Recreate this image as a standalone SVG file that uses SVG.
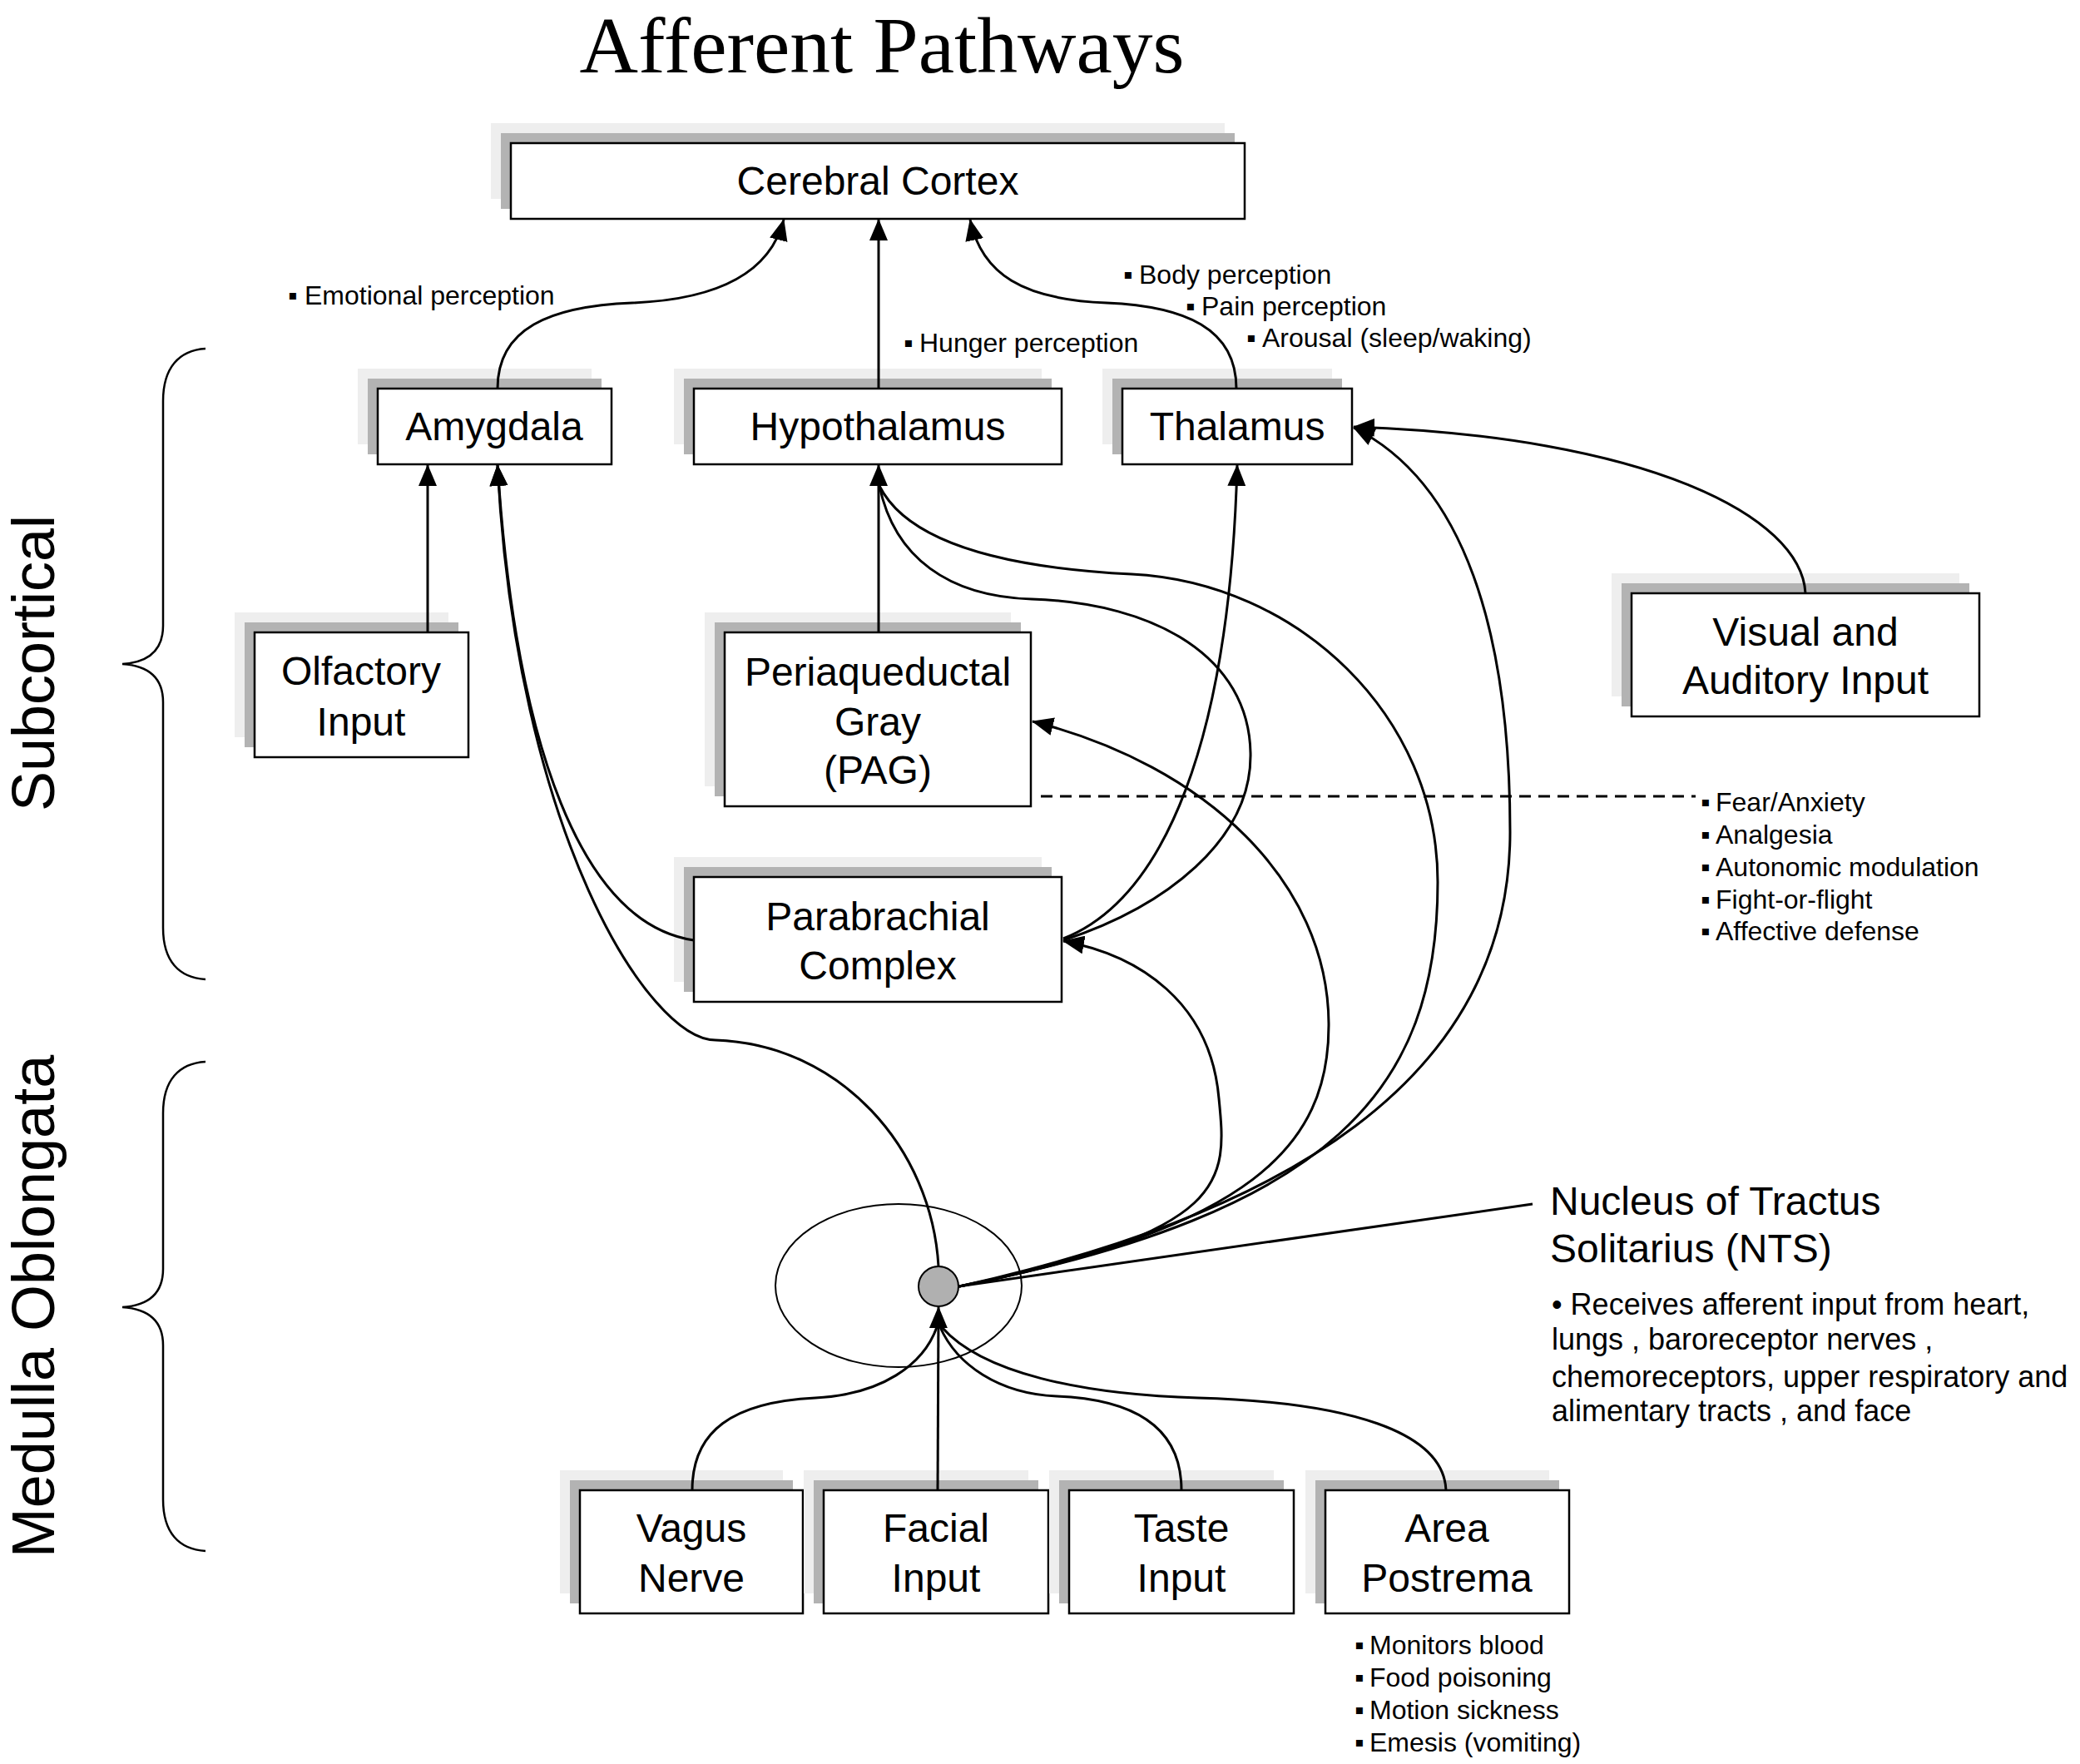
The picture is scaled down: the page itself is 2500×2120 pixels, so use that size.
<svg xmlns="http://www.w3.org/2000/svg" width="2500" height="2120" viewBox="0 0 2500 2120">
<defs>
<style>
.box{fill:#fff;stroke:#000;stroke-width:2.5}
.sh1{fill:#eeeeee}
.sh2{fill:#b3b3b3}
.lbl{font-family:"Liberation Sans",Arial,sans-serif;font-size:48px;text-anchor:middle;fill:#000}
.sm{font-family:"Liberation Sans",Arial,sans-serif;font-size:32px;fill:#000}
.desc{font-family:"Liberation Sans",Arial,sans-serif;font-size:36px;fill:#000}
.side{font-family:"Liberation Sans",Arial,sans-serif;font-size:72px;text-anchor:middle;fill:#000}
.edge{fill:none;stroke:#000;stroke-width:3}
.arr{marker-end:url(#ah)}
.brace{fill:none;stroke:#000;stroke-width:2.5}
</style>
<marker id="ah" markerUnits="userSpaceOnUse" markerWidth="26" markerHeight="22" viewBox="0 0 26 22" refX="25" refY="11" orient="auto">
<path d="M0,0 L26,11 L0,22 Z" fill="#000"/>
</marker>
</defs>
<rect width="2500" height="2120" fill="#fff"/>

<text x="1060" y="87" font-family="'Liberation Serif','Times New Roman',serif" font-size="96" text-anchor="middle" textLength="727" lengthAdjust="spacingAndGlyphs">Afferent Pathways</text>

<g id="brace-subcortical">
<path class="brace" d="M247 419 C215 421 196 442 196 482 L196 752 C196 782 178 796 147 798 C178 800 196 814 196 844 L196 1115 C196 1155 215 1175 247 1177"/>
<text class="side" transform="translate(65 797) rotate(-90)">Subcortical</text>
</g>
<g id="brace-medulla">
<path class="brace" d="M247 1276 C215 1278 196 1298 196 1338 L196 1525 C196 1555 178 1569 147 1571 C178 1573 196 1587 196 1617 L196 1802 C196 1842 215 1862 247 1864"/>
<text class="side" transform="translate(65 1570) rotate(-90)">Medulla Oblongata</text>
</g>

<g id="cortex">
<rect class="sh1" x="590" y="148" width="882" height="91"/>
<rect class="sh2" x="602" y="160" width="882" height="91"/>
<rect class="box" x="614" y="172" width="882" height="91"/>
<text class="lbl" x="1055" y="234">Cerebral Cortex</text>
</g>
<g id="amygdala">
<rect class="sh1" x="430" y="443" width="281" height="91"/>
<rect class="sh2" x="442" y="455" width="281" height="91"/>
<rect class="box" x="454" y="467" width="281" height="91"/>
<text class="lbl" x="594" y="529">Amygdala</text>
</g>
<g id="hypothalamus">
<rect class="sh1" x="810" y="443" width="442" height="91"/>
<rect class="sh2" x="822" y="455" width="442" height="91"/>
<rect class="box" x="834" y="467" width="442" height="91"/>
<text class="lbl" x="1055" y="529">Hypothalamus</text>
</g>
<g id="thalamus">
<rect class="sh1" x="1325" y="443" width="276" height="91"/>
<rect class="sh2" x="1337" y="455" width="276" height="91"/>
<rect class="box" x="1349" y="467" width="276" height="91"/>
<text class="lbl" x="1487" y="529">Thalamus</text>
</g>
<g id="olfactory">
<rect class="sh1" x="282" y="736" width="257" height="150"/>
<rect class="sh2" x="294" y="748" width="257" height="150"/>
<rect class="box" x="306" y="760" width="257" height="150"/>
<text class="lbl" x="434" y="823">Olfactory</text>
<text class="lbl" x="434" y="884">Input</text>
</g>
<g id="pag">
<rect class="sh1" x="847" y="736" width="368" height="209"/>
<rect class="sh2" x="859" y="748" width="368" height="209"/>
<rect class="box" x="871" y="760" width="368" height="209"/>
<text class="lbl" x="1055" y="824">Periaqueductal</text>
<text class="lbl" x="1055" y="884">Gray</text>
<text class="lbl" x="1055" y="942">(PAG)</text>
</g>
<g id="parabrachial">
<rect class="sh1" x="810" y="1030" width="442" height="150"/>
<rect class="sh2" x="822" y="1042" width="442" height="150"/>
<rect class="box" x="834" y="1054" width="442" height="150"/>
<text class="lbl" x="1055" y="1118">Parabrachial</text>
<text class="lbl" x="1055" y="1177">Complex</text>
</g>
<g id="visual-auditory">
<rect class="sh1" x="1937" y="689" width="418" height="148"/>
<rect class="sh2" x="1949" y="701" width="418" height="148"/>
<rect class="box" x="1961" y="713" width="418" height="148"/>
<text class="lbl" x="2170" y="776">Visual and</text>
<text class="lbl" x="2170" y="834">Auditory Input</text>
</g>
<g id="vagus">
<rect class="sh1" x="673" y="1767" width="268" height="148"/>
<rect class="sh2" x="685" y="1779" width="268" height="148"/>
<rect class="box" x="697" y="1791" width="268" height="148"/>
<text class="lbl" x="831" y="1853">Vagus</text>
<text class="lbl" x="831" y="1913">Nerve</text>
</g>
<g id="facial">
<rect class="sh1" x="966" y="1767" width="270" height="148"/>
<rect class="sh2" x="978" y="1779" width="270" height="148"/>
<rect class="box" x="990" y="1791" width="270" height="148"/>
<text class="lbl" x="1125" y="1853">Facial</text>
<text class="lbl" x="1125" y="1913">Input</text>
</g>
<g id="taste">
<rect class="sh1" x="1261" y="1767" width="270" height="148"/>
<rect class="sh2" x="1273" y="1779" width="270" height="148"/>
<rect class="box" x="1285" y="1791" width="270" height="148"/>
<text class="lbl" x="1420" y="1853">Taste</text>
<text class="lbl" x="1420" y="1913">Input</text>
</g>
<g id="area-postrema">
<rect class="sh1" x="1569" y="1767" width="293" height="148"/>
<rect class="sh2" x="1581" y="1779" width="293" height="148"/>
<rect class="box" x="1593" y="1791" width="293" height="148"/>
<text class="lbl" x="1739" y="1853">Area</text>
<text class="lbl" x="1739" y="1913">Postrema</text>
</g>

<g id="nts-region">
<ellipse cx="1080" cy="1545" rx="148" ry="98" fill="none" stroke="#000" stroke-width="2"/>
</g>

<g id="connectors">
<path class="edge arr" d="M598 467 C598 395 660 368 760 364 C860 360 925 330 942 264"/>
<path class="edge arr" d="M1056 467 L1056 264"/>
<path class="edge arr" d="M1486 467 C1486 395 1425 368 1330 364 C1230 360 1180 330 1166 264"/>
<path class="edge arr" d="M514 760 L514 559"/>
<path class="edge arr" d="M1056 760 L1056 559"/>
<path class="edge arr" d="M834 1130 C700 1110 620 900 598 559"/>
<path class="edge arr" d="M1128 1522 C1120 1380 1010 1255 860 1250 C780 1250 620 1000 598 559"/>
<path class="edge" d="M1278 1130 C1400 1090 1505 1010 1503 905 C1501 790 1390 725 1240 720 C1140 717 1075 670 1057 584"/>
<path class="edge" d="M1153 1546 C1603 1456 1728 1310 1728 1060 C1728 860 1560 700 1360 690 C1200 682 1090 650 1057 584"/>
<path class="edge arr" d="M1278 1128 C1400 1080 1478 890 1487 559"/>
<path class="edge arr" d="M1153 1546 C1480 1480 1475 1420 1465 1320 C1455 1205 1370 1148 1278 1131"/>
<path class="edge arr" d="M1153 1546 C1500 1475 1598 1380 1597 1230 C1596 1060 1450 920 1241 867"/>
<path class="edge arr" d="M1153 1546 C1540 1460 1815 1300 1815 1000 C1815 760 1760 580 1627 514"/>
<path class="edge arr" d="M2170 713 C2165 620 1980 525 1627 513"/>
<path class="edge" d="M832 1791 C832 1720 880 1685 980 1680 C1060 1676 1110 1640 1126 1595"/>
<path class="edge arr" d="M1127 1791 L1128 1571"/>
<path class="edge" d="M1420 1791 C1420 1720 1370 1682 1270 1678 C1200 1675 1150 1640 1130 1595"/>
<path class="edge" d="M1738 1791 C1735 1720 1620 1685 1440 1680 C1300 1676 1180 1650 1132 1595"/>
<path class="edge" stroke-width="2.5" d="M1842 1447 L1152 1546"/>
<path class="edge" stroke-dasharray="14 9" d="M1251 957 L2038 957"/>
</g>

<g id="nts">
<circle cx="1128" cy="1546" r="24" fill="#b0b0b0" stroke="#000" stroke-width="2"/>
</g>

<g id="label-cortex-inputs">
<text class="sm"><tspan x="346" y="366">▪</tspan><tspan x="366" y="366">Emotional perception</tspan></text>
<text class="sm"><tspan x="1086" y="423">▪</tspan><tspan x="1105" y="423">Hunger perception</tspan></text>
<text class="sm"><tspan x="1350" y="341">▪</tspan><tspan x="1369" y="341">Body perception</tspan></text>
<text class="sm"><tspan x="1425" y="379">▪</tspan><tspan x="1444" y="379">Pain perception</tspan></text>
<text class="sm"><tspan x="1498" y="417">▪</tspan><tspan x="1517" y="417">Arousal (sleep/waking)</tspan></text>
</g>
<g id="label-pag">
<text class="sm"><tspan x="2044" y="975">▪</tspan><tspan x="2062" y="975">Fear/Anxiety</tspan></text>
<text class="sm"><tspan x="2044" y="1014">▪</tspan><tspan x="2062" y="1014">Analgesia</tspan></text>
<text class="sm"><tspan x="2044" y="1053">▪</tspan><tspan x="2062" y="1053">Autonomic modulation</tspan></text>
<text class="sm"><tspan x="2044" y="1092">▪</tspan><tspan x="2062" y="1092">Fight-or-flight</tspan></text>
<text class="sm"><tspan x="2044" y="1130">▪</tspan><tspan x="2062" y="1130">Affective defense</tspan></text>
</g>
<g id="label-area">
<text class="sm"><tspan x="1628" y="1988">▪</tspan><tspan x="1646" y="1988">Monitors blood</tspan></text>
<text class="sm"><tspan x="1628" y="2027">▪</tspan><tspan x="1646" y="2027">Food poisoning</tspan></text>
<text class="sm"><tspan x="1628" y="2066">▪</tspan><tspan x="1646" y="2066">Motion sickness</tspan></text>
<text class="sm"><tspan x="1628" y="2105">▪</tspan><tspan x="1646" y="2105">Emesis (vomiting)</tspan></text>
</g>
<g id="label-nts">
<text class="lbl" style="text-anchor:start" x="1863" y="1460">Nucleus of Tractus</text>
<text class="lbl" style="text-anchor:start" x="1863" y="1517">Solitarius (NTS)</text>
<text class="desc" x="1865" y="1580">• Receives afferent input from heart,</text>
<text class="desc" x="1865" y="1622">lungs , baroreceptor nerves ,</text>
<text class="desc" x="1865" y="1667">chemoreceptors, upper respiratory and</text>
<text class="desc" x="1865" y="1708">alimentary tracts , and face</text>
</g>
</svg>
